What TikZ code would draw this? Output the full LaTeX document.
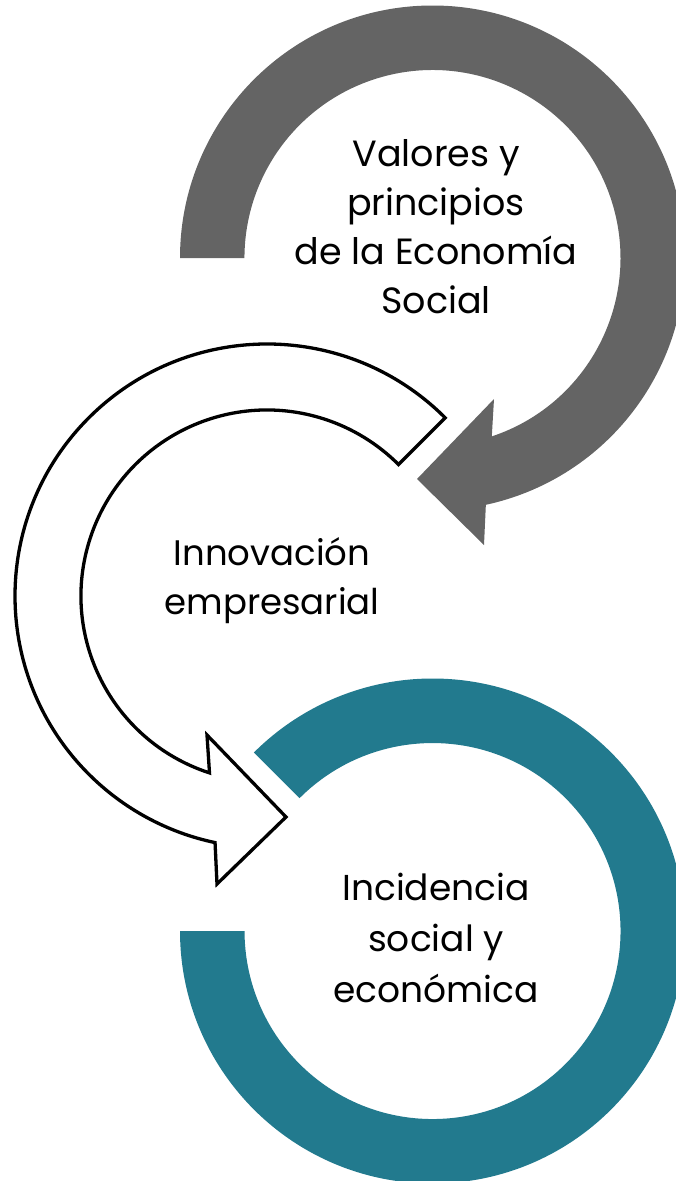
\documentclass[tikz,border=0pt]{standalone}
\usepackage{fontspec}
\setmainfont{Poppins}
\definecolor{ringgray}{RGB}{100,100,100}
\definecolor{ringteal}{RGB}{34,122,142}
\begin{document}
\begin{tikzpicture}[x=1pt,y=1pt,
  label/.style={inner sep=0pt,align=center,text=black},
  whitearrow/.style={draw=black,fill=white,line width=3.3pt,line join=miter}]
\useasboundingbox (0,0) rectangle (675,-1181);
% gray circular arrow (top)
\fill[ringgray] (180,-258) arc[start angle=180,end angle=-77.8,radius=252.5]
  -- (484,-545) -- (417,-479) -- (494,-399) -- (491.8,-436.4)
  arc[start angle=-71.6,end angle=180,radius=188] -- cycle;
% teal ring (bottom)
\fill[ringteal] (180,-931) arc[start angle=180,end angle=495,radius=252.5]
  -- (299.6,-798.1) arc[start angle=495,end angle=180,radius=188] -- cycle;
% white outlined circular arrow (middle)
\draw[whitearrow] (445.2,-417.8) arc[start angle=45,end angle=258.1,radius=252]
  -- (217,-884) -- (286,-817) -- (207,-735) -- (209.5,-772.9)
  arc[start angle=252,end angle=45,radius=186] -- cycle;
% texts
\node[label,font=\fontsize{36.5}{49}\selectfont] (valores) at (436,-227)
  {Valores y\\principios\\de la Economía\\Social};
\node[label,font=\fontsize{35.5}{49}\selectfont] (innov) at (272,-581)
  {Innovación\\empresarial};
\node[label,font=\fontsize{36}{51}\selectfont] (incid) at (436,-938)
  {Incidencia\\social y\\económica};
\end{tikzpicture}
\end{document}
